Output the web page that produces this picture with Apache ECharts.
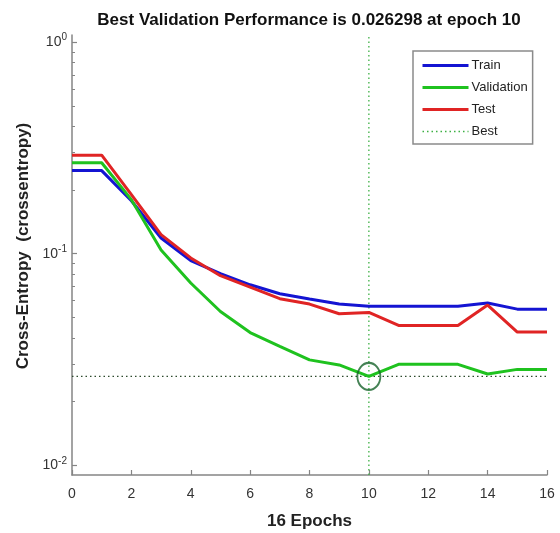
<!DOCTYPE html>
<html>
<head>
<meta charset="utf-8">
<title>Best Validation Performance</title>
<script src="https://cdn.jsdelivr.net/npm/echarts@6/dist/echarts.min.js"></script>
<style>
  html, body { margin: 0; padding: 0; background: #fff; }
  #chart { width: 560px; height: 533px; }
</style>
</head>
<body>
<div id="chart"></div>
<script>
// epochs 0..16
const epochs = [0, 1, 2, 3, 4, 5, 6, 7, 8, 9, 10, 11, 12, 13, 14, 15, 16]
const train = [0.247, 0.247, 0.178, 0.1186, 0.0927, 0.0804, 0.0713, 0.0647, 0.0611, 0.0578, 0.0564, 0.0564, 0.0564, 0.0564, 0.0585, 0.0547, 0.0547]
const validation = [0.269, 0.269, 0.18, 0.104, 0.0727, 0.0533, 0.0424, 0.0365, 0.0315, 0.0298, 0.026298, 0.030, 0.030, 0.030, 0.027, 0.0284, 0.0284]
const test = [0.292, 0.292, 0.19, 0.123, 0.0955, 0.0787, 0.0695, 0.0613, 0.0578, 0.052, 0.0528, 0.0458, 0.0458, 0.0458, 0.0572, 0.0426, 0.0426]
const bestEpoch = 10
const bestPerf = 0.026298
const yMin = 0.009
const yMax = 1.08
const majorTicks = [0.01, 0.1, 1]
const minorTicks = [0.02, 0.03, 0.04, 0.05, 0.06, 0.07, 0.08, 0.09, 0.2, 0.3, 0.4, 0.5, 0.6, 0.7, 0.8, 0.9]
const xTicks = [0, 2, 4, 6, 8, 10, 12, 14, 16]

const pairs = (arr) => epochs.map((e, i) => [e, arr[i]])
const font = 'Liberation Sans, Arial, sans-serif'
const axisGray = '#858585'

let myChart = echarts.init(document.getElementById('chart'))
let option = {
  animation: false,
  textStyle: { fontFamily: font },
  title: {
    text: 'Best Validation Performance is ' + bestPerf + ' at epoch ' + bestEpoch,
    left: 304,
    textAlign: 'center',
    top: 7,
    textStyle: { fontSize: 17, fontWeight: 'bold', color: '#111', fontFamily: font }
  },
  grid: {
    left: 72,
    right: 13,
    top: 35,
    bottom: 58,
    outerBoundsMode: 'none'
  },
  legend: {
    orient: 'vertical',
    left: 413,
    top: 51,
    itemWidth: 46,
    itemHeight: 14,
    itemGap: 9,
    padding: [8, 5, 6, 8],
    borderColor: '#8a8a8a',
    borderWidth: 1.5,
    backgroundColor: '#fff',
    itemStyle: { opacity: 0 },
    textStyle: { fontSize: 13, color: '#222', padding: [0, 0, 0, -2] },
    data: [
      { name: 'Train', lineStyle: { width: 3 } },
      { name: 'Validation', lineStyle: { width: 3 } },
      { name: 'Test', lineStyle: { width: 3 } },
      { name: 'Best', lineStyle: { width: 1.3 } }
    ]
  },
  xAxis: {
    type: 'value',
    min: 0,
    max: 16,
    interval: 2,
    name: '16 Epochs',
    nameLocation: 'middle',
    nameGap: 38,
    nameTextStyle: { fontSize: 17, fontWeight: 'bold', color: '#222' },
    axisLine: { lineStyle: { color: axisGray, width: 1.5 } },
    axisTick: { inside: true, length: 5, lineStyle: { color: axisGray, width: 1.2 }, customValues: xTicks },
    axisLabel: { fontSize: 14, color: '#333', margin: 12, customValues: xTicks },
    splitLine: { show: false }
  },
  yAxis: [
    {
      type: 'log',
      logBase: 10,
      min: yMin,
      max: yMax,
      name: 'Cross-Entropy  (crossentropy)',
      nameLocation: 'middle',
      nameGap: 37,
      nameTextStyle: { fontSize: 17, fontWeight: 'bold', color: '#222', padding: [0, 0, 0, 18] },
      axisLine: { show: true, lineStyle: { color: axisGray, width: 1.5 } },
      axisTick: { inside: true, length: 5, lineStyle: { color: axisGray, width: 1.2 }, customValues: majorTicks },
      axisLabel: {
        customValues: majorTicks,
        margin: 5,
        color: '#333',
        fontSize: 14,
        formatter: (val) => {
          let p = Math.round(Math.log10(val))
          return '{b|10}{s|' + p + '}'
        },
        rich: {
          b: { fontSize: 14, color: '#333' },
          s: { fontSize: 10, color: '#333', verticalAlign: 'bottom', padding: [0, 0, 9, 0] }
        }
      },
      splitLine: { show: false }
    },
    {
      type: 'log',
      logBase: 10,
      min: yMin,
      max: yMax,
      position: 'left',
      axisLine: { show: false },
      axisTick: { inside: true, length: 3, lineStyle: { color: axisGray, width: 1 }, customValues: minorTicks },
      axisLabel: { show: false },
      splitLine: { show: false }
    }
  ],
  series: [
    {
      name: 'Best',
      type: 'line',
      symbol: 'none',
      data: [[bestEpoch, yMin], [bestEpoch, yMax]],
      lineStyle: { color: '#3cb043', width: 1.3, type: [1.5, 3] },
      itemStyle: { color: '#3cb043' },
      z: 1
    },
    {
      name: 'Best',
      type: 'line',
      symbol: 'none',
      data: [[0, bestPerf], [16, bestPerf]],
      lineStyle: { color: '#2c4a2c', width: 1.3, type: [1.5, 3] },
      itemStyle: { color: '#3cb043' },
      z: 1
    },
    {
      name: 'Train',
      type: 'line',
      symbol: 'none',
      data: pairs(train),
      lineStyle: { color: '#1414d2', width: 3 },
      itemStyle: { color: '#1414d2' },
      z: 3
    },
    {
      name: 'Validation',
      type: 'line',
      symbol: 'none',
      data: pairs(validation),
      lineStyle: { color: '#1fc21f', width: 3 },
      itemStyle: { color: '#1fc21f' },
      z: 3
    },
    {
      name: 'Test',
      type: 'line',
      symbol: 'none',
      data: pairs(test),
      lineStyle: { color: '#e02424', width: 3 },
      itemStyle: { color: '#e02424' },
      z: 3
    },
    {
      name: 'bestMarker',
      type: 'scatter',
      symbol: 'circle',
      symbolSize: [23, 27],
      data: [[bestEpoch, bestPerf]],
      itemStyle: { color: 'rgba(0,0,0,0)', borderColor: '#17632b', borderWidth: 2 },
      z: 4
    }
  ]
}
myChart.setOption(option)
</script>
</body>
</html>
